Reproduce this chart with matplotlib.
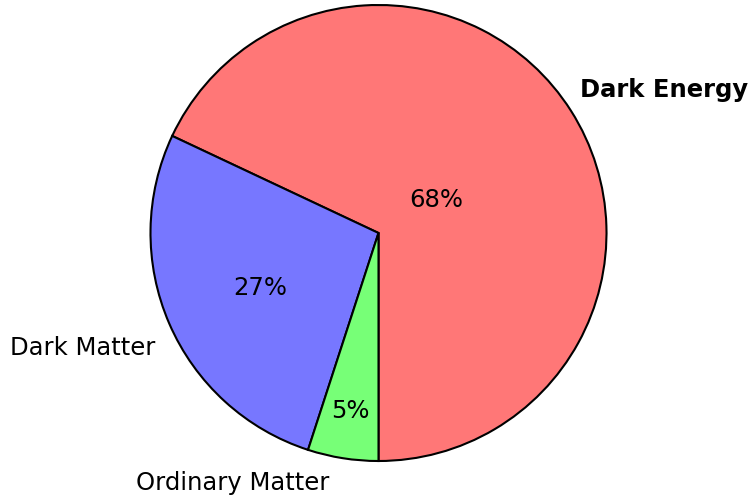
import numpy as np
import matplotlib
matplotlib.use('Agg')
import matplotlib.pyplot as plt

labels = ['Dark Energy', 'Dark Matter', 'Ordinary Matter']
shares = [68, 27, 5]
colors = ['#FF7777', '#7777FF', '#77FF77']
bold = [True, False, False]

W, H = 751, 496
cx, cy, R = 378.5, H - 233, 228
FONT = ['DejaVu Sans']

fig = plt.figure(figsize=(W / 100, H / 100), dpi=100)
ax = fig.add_axes([0, 0, 1, 1])

wedges, _ = ax.pie(shares, colors=colors, startangle=-90, counterclock=True,
                   center=(cx, cy), radius=R,
                   wedgeprops=dict(edgecolor='black', linewidth=1.5))
ax.set_xlim(0, W)
ax.set_ylim(0, H)
ax.set_aspect('equal')
ax.axis('off')

# percentage labels (polar offsets from centre: fraction of R, angle)
pct_pos = [(0.29, 30), (0.57, 204.8), (0.79, 261)]
for v, (f, a) in zip(shares, pct_pos):
    t = np.deg2rad(a)
    ax.text(cx + f * R * np.cos(t), cy + f * R * np.sin(t), f'{v}%',
            ha='center', va='center', fontsize=17.5, family=FONT)

# outside labels
lab_pos = [(1.40, 26.7), (1.39, 201.2), (1.27, 239.7)]
for lab, b, (f, a) in zip(labels, bold, lab_pos):
    t = np.deg2rad(a)
    ax.text(cx + f * R * np.cos(t), cy + f * R * np.sin(t), lab,
            ha='center', va='center', fontsize=17.5, family=FONT,
            fontweight='bold' if b else 'normal')

plt.savefig('out.png', dpi=100, facecolor='white')
